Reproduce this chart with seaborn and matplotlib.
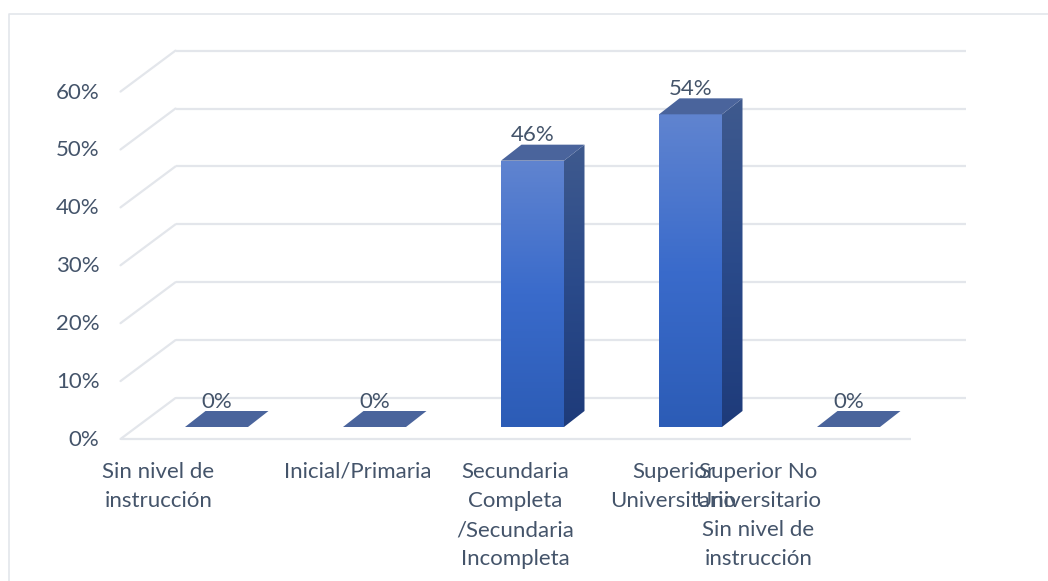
import numpy as np
import pandas as pd
import matplotlib
matplotlib.use("Agg")
import matplotlib.pyplot as plt
from matplotlib.patches import Polygon
from matplotlib.colors import LinearSegmentedColormap
from matplotlib.transforms import ScaledTranslation
import seaborn as sns

categories = ["Sin nivel de\ninstrucción", "Inicial/Primaria",
              "Secundaria\nCompleta\n/Secundaria\nIncompleta",
              "Superior\nUniversitario",
              "Superior No\nUniversitario\nSin nivel de\ninstrucción"]
values = [0.0, 0.0, 0.46, 0.54, 0.0]
value_labels = ["0%", "0%", "46%", "54%", "0%"]
ticks = [0.0, 0.1, 0.2, 0.3, 0.4, 0.5, 0.6]
tick_labels = ["0%", "10%", "20%", "30%", "40%", "50%", "60%"]
label_shift = [-58, -17, -17, -17, -90]

W, H = 1048, 581
DPI = 100
TEXT = "#44546A"
GRID = "#E3E6EB"
FONT = ["Lato", "DejaVu Sans"]
FS = 16

sns.set_theme(style="white")
plt.rcParams["font.family"] = FONT

fig = plt.figure(figsize=(W / DPI, H / DPI), dpi=DPI, facecolor="white")
SLOT = 158.0
X0 = 216.5 - SLOT / 2
BASE = 427.0
SCALE = 579.0
ax = fig.add_axes([X0 / W, 1 - BASE / H, 5 * SLOT / W, 0.6 * SCALE / H])
ax.patch.set_alpha(0)

df = pd.DataFrame({"cat": categories, "val": values})
sns.barplot(data=df, x="cat", y="val", ax=ax, width=63 / SLOT, color="#3C6AC4",
            saturation=1, linewidth=0, zorder=3)
ax.set_xlim(-0.5, 4.5)
ax.set_ylim(0, 0.6)
ax.set_xlabel("")
ax.set_ylabel("")
for s in ax.spines.values():
    s.set_visible(False)
ax.set_xticks([])
ax.set_yticks([])


def off(dx, dy):
    """Pixel offset (y downward) from the bar-front plane."""
    return ax.transData + ScaledTranslation(dx / DPI, -dy / DPI, fig.dpi_scale_trans)


FX, FY = -17.0, 12.0
BX, BY = 38.0, -29.0
for t, lab in zip(ticks, tick_labels):
    front = off(FX, FY).transform((-0.5, t))
    back = off(BX, BY).transform((-0.5, t))
    fig.add_artist(plt.Line2D([front[0] / W, back[0] / W], [front[1] / H, back[1] / H],
                              color=GRID, lw=1.6, zorder=0))
    ax.plot([-0.5, 4.5], [t, t], color=GRID, lw=1.6, clip_on=False, zorder=1,
            transform=off(BX, BY), solid_capstyle="butt")
    ax.text(-0.5, t, lab, transform=off(FX - 21, FY + 1), ha="right",
            va="center", fontsize=FS, color=TEXT)
ax.plot([-0.5, 4.5], [0, 0], color=GRID, lw=1.6, clip_on=False, zorder=1,
        transform=off(FX, FY), solid_capstyle="butt")

DX, DY = 20.5, -16.0
cm_front = LinearSegmentedColormap.from_list("f", ["#2C5CB6", "#3A6BCB", "#6084D0"])
cm_side = LinearSegmentedColormap.from_list("s", ["#1E3B7A", "#2A4A8A", "#3F5A8E"])
grad = np.linspace(0, 1, 256).reshape(-1, 1)
half = 63 / SLOT / 2
dx_d = DX / SLOT
dy_d = -DY / SCALE
for i, (bar, v) in enumerate(zip(ax.patches, values)):
    x0, x1 = i - half, i + half
    if v > 0:
        im = ax.imshow(grad, cmap=cm_front, origin="lower", aspect="auto",
                       extent=(x0, x1, 0, v), zorder=4)
        im.set_clip_path(bar)
        side = Polygon([(x1, 0), (x1 + dx_d, dy_d), (x1 + dx_d, v + dy_d), (x1, v)],
                       closed=True, fc="none", ec="none", zorder=3)
        ax.add_patch(side)
        im2 = ax.imshow(grad, cmap=cm_side, origin="lower", aspect="auto",
                        extent=(x1, x1 + dx_d, 0, v + dy_d), zorder=4)
        im2.set_clip_path(side)
    top = Polygon([(x0, v), (x1, v), (x1 + dx_d, v + dy_d), (x0 + dx_d, v + dy_d)],
                  closed=True, fc="#4A649C", ec="none", zorder=5, clip_on=False)
    ax.add_patch(top)
    ax.text(i, v, value_labels[i], transform=off(0, -25.5), ha="center", va="center",
            fontsize=FS, color=TEXT, zorder=6, clip_on=False)
    ax.text(i, 0, categories[i], transform=off(label_shift[i], 34.5), ha="center", va="top",
            fontsize=FS, color=TEXT, linespacing=1.58, clip_on=False)
ax.set_xlim(-0.5, 4.5)
ax.set_ylim(0, 0.6)

fig.add_artist(plt.Line2D([8.5 / W, 8.5 / W, 1], [0, 1 - 14 / H, 1 - 14 / H],
                          color=GRID, lw=1.2))
fig.savefig("out.png", dpi=DPI)
